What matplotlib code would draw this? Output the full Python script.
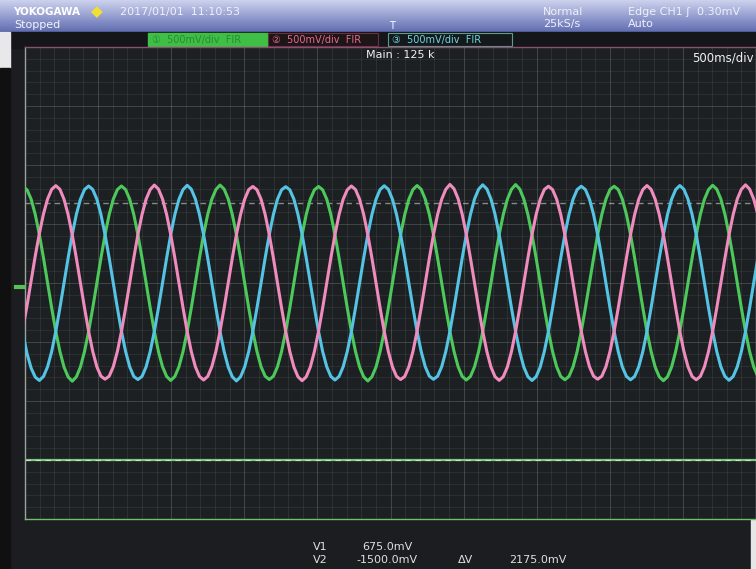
import numpy as np
import matplotlib.pyplot as plt
from matplotlib.patches import Rectangle

# sample clock
t_start = -0.014   # s
t_step = 0.02808   # s

# three phase traces, mV (500 mV/div)
pink_mv = [
    -380, -190, 20, 230, 420, 585, 712, 794,
    825, 794, 710, 580, 410, 212, 0, -212, -410, -580, -710, -790, -815, -790, -710, -580, -410, -212, 0, 212, 410, 580, 710, 792,
    830, 796, 712, 580, 410, 212, 0, -212, -410, -580, -710, -792, -822, -792, -710, -580, -410, -212, 0, 212, 410, 580, 710, 792,
    818, 790, 710, 580, 410, 212, 0, -212, -410, -580, -712, -795, -828, -795, -712, -580, -410, -212, 0, 212, 410, 580, 710, 790,
    822, 792, 710, 580, 410, 212, 0, -212, -410, -580, -710, -792, -818, -792, -710, -580, -410, -212, 0, 212, 410, 580, 710, 794,
    835, 798, 714, 582, 410, 212, 0, -212, -410, -580, -712, -794, -825, -794, -712, -580, -410, -212, 0, 212, 410, 580, 710, 792,
    820, 792, 710, 580, 410, 212, 0, -212, -410, -580, -710, -790, -815, -790, -710, -580, -410, -212, 0, 212, 410, 580, 710, 792,
    826, 794, 710, 580, 410, 212, 0, -212, -410, -580, -710, -792, -820, -792, -710, -580, -410, -212, 0, 212, 410, 580, 712, 794,
    832, 796, 712, 582,
]
blue_mv = [
    -430, -600, -722, -798, -826, -792, -710, -580, -410, -212, 0, 212, 410, 580, 710, 792,
    822, 792, 710, 580, 410, 212, 0, -212, -410, -580, -710, -792, -818, -792, -710, -580, -410, -212, 0, 212, 410, 580, 710, 792,
    828, 795, 712, 580, 410, 212, 0, -212, -410, -580, -712, -795, -830, -795, -712, -580, -410, -212, 0, 212, 410, 580, 710, 790,
    816, 790, 710, 580, 410, 212, 0, -212, -410, -580, -710, -792, -822, -792, -710, -580, -410, -212, 0, 212, 410, 580, 710, 792,
    824, 794, 710, 580, 410, 212, 0, -212, -410, -580, -710, -790, -816, -790, -710, -580, -410, -212, 0, 212, 410, 580, 712, 795,
    832, 797, 712, 580, 410, 212, 0, -212, -410, -580, -712, -794, -826, -794, -712, -580, -410, -212, 0, 212, 410, 580, 710, 792,
    820, 792, 710, 580, 410, 212, 0, -212, -410, -580, -710, -792, -820, -792, -710, -580, -410, -212, 0, 212, 410, 580, 710, 792,
    826, 794, 710, 580, 410, 212, 0, -212, -410, -580, -710, -792, -824, -792, -710, -580, -410, -212, 0, 212,
]
green_mv = [
    815, 790, 710, 580, 410, 212, 0, -212, -410, -580, -712, -796, -832, -796, -712, -580, -410, -212, 0, 212, 410, 580, 710, 792,
    822, 792, 710, 580, 410, 212, 0, -212, -410, -580, -710, -792, -826, -792, -710, -580, -410, -212, 0, 212, 410, 580, 710, 792,
    830, 796, 712, 580, 410, 212, 0, -212, -410, -580, -710, -790, -818, -790, -710, -580, -410, -212, 0, 212, 410, 580, 710, 790,
    818, 790, 710, 580, 410, 212, 0, -212, -410, -580, -712, -795, -830, -795, -712, -580, -410, -212, 0, 212, 410, 580, 710, 792,
    826, 794, 710, 580, 410, 212, 0, -212, -410, -580, -710, -792, -822, -792, -710, -580, -410, -212, 0, 212, 410, 580, 710, 794,
    834, 797, 712, 580, 410, 212, 0, -212, -410, -580, -710, -792, -820, -792, -710, -580, -410, -212, 0, 212, 410, 580, 710, 792,
    820, 792, 710, 580, 410, 212, 0, -212, -410, -580, -712, -795, -828, -795, -712, -580, -410, -212, 0, 212, 410, 580, 710, 792,
    828, 795, 712, 580, 410, 212, 0, -212, -410, -580, -710, -792,
]

# cursors
v1_mv = 675.0
v2_mv = -1500.0

W, H = 756, 569
fig = plt.figure(figsize=(W / 100, H / 100), dpi=100, facecolor='#1b1d20')

# background / frame in pixel coords
bg = fig.add_axes([0, 0, 1, 1], zorder=0)
bg.set_xlim(0, W)
bg.set_ylim(H, 0)
bg.axis('off')
grad = np.linspace(0, 1, 32)[:, None, None]
top = np.array([0.80, 0.82, 0.93])
bot = np.array([0.38, 0.43, 0.70])
bar = np.repeat(top * (1 - grad) + bot * grad, 2, axis=1)
bg.imshow(bar, extent=(0, W, 32, 0), aspect='auto')
bg.add_patch(Rectangle((0, 32), W, 16, color='#141619'))
bg.add_patch(Rectangle((0, 32), 10, 36, color='#e8e8ea'))
bg.add_patch(Rectangle((0, 68), 10, H - 68, color='#101010'))
bg.add_patch(Rectangle((751, 395), 5, H - 395, color='#e6e6e6'))

# channel tags
bg.add_patch(Rectangle((148, 33), 120, 13, color='#3fbf45'))
bg.add_patch(Rectangle((268, 33), 110, 13, facecolor='#1d1518', edgecolor='#6a3040', lw=0.8))
bg.add_patch(Rectangle((388, 33), 124, 13, facecolor='#141a1c', edgecolor='#5f9a8c', lw=0.8))

# scope grid
ax = fig.add_axes([25 / W, 50 / H, 731 / W, 472 / H], zorder=1)
ax.set_facecolor('#1d2023')
ax.set_xlim(0, 5.0)
ax.set_ylim(-2000, 2000)
for xv in np.arange(0.1, 5.0, 0.1):
    ax.axvline(xv, color='#7a8a80', lw=0.5, alpha=0.22)
for yv in np.arange(-1900, 2000, 100):
    ax.axhline(yv, color='#7a8a80', lw=0.5, alpha=0.2)
for xv in np.arange(0.5, 5.0, 0.5):
    ax.axvline(xv, color='#a0aaa4', lw=0.6, alpha=0.22)
for yv in np.arange(-1500, 2000, 500):
    ax.axhline(yv, color='#a0aaa4', lw=0.6, alpha=0.22)
ax.set_xticks([])
ax.set_yticks([])
for s in ax.spines.values():
    s.set_color('#9aa29c')
    s.set_linewidth(1.0)
ax.spines['top'].set_color('#8a5070')
ax.spines['bottom'].set_color('#6fbf6f')

t = t_start + t_step * np.arange(len(pink_mv))
ax.plot(t, green_mv, color='#4cc95a', lw=2.2, zorder=3)
ax.plot(t, blue_mv, color='#55c3e3', lw=2.2, zorder=4)
ax.plot(t, pink_mv, color='#f08cbd', lw=2.2, zorder=5)

ax.axhline(v1_mv, color='#c9d6c4', lw=1.0, ls=(0, (4, 3)), alpha=0.6, zorder=2)
ax.axhline(v2_mv, color='#78c878', lw=1.6, zorder=2)
ax.axhline(v2_mv, color='#dfe8dc', lw=0.8, ls=(0, (5, 4)), alpha=0.8, zorder=2)
ax.plot([-0.06, -0.005], [-30, -30], color='#58c058', lw=3, clip_on=False, zorder=6)

# texts on top
ov = fig.add_axes([0, 0, 1, 1], zorder=3)
ov.set_xlim(0, W)
ov.set_ylim(H, 0)
ov.axis('off')
ov.patch.set_alpha(0)
fs = 8
ov.text(13, 12, 'YOKOGAWA', color='white', fontsize=7.5, fontweight='bold', va='center')
ov.text(97, 12, '\u25c6', color='#f2e030', fontsize=11, va='center', ha='center')
ov.text(14, 25, 'Stopped', color='#f4f4f8', fontsize=fs, va='center')
ov.text(120, 12, '2017/01/01  11:10:53', color='#f0f0f8', fontsize=fs, va='center')
ov.text(543, 12, 'Normal', color='#eef0f8', fontsize=fs, va='center')
ov.text(543, 24, '25kS/s', color='#eef0f8', fontsize=fs, va='center')
ov.text(628, 12, 'Edge CH1 \u0283  0.30mV', color='#eef0f8', fontsize=fs, va='center')
ov.text(628, 24, 'Auto', color='#eef0f8', fontsize=fs, va='center')
ov.text(392, 26, 'T', color='white', fontsize=7, va='center', ha='center')
ov.text(152, 40, '\u2460  500mV/div  FIR', color='#2a8a34', fontsize=7, va='center')
ov.text(272, 40, '\u2461  500mV/div  FIR', color='#e86a90', fontsize=7, va='center')
ov.text(392, 40, '\u2462  500mV/div  FIR', color='#6fd6e0', fontsize=7, va='center')
ov.text(366, 55, 'Main : 125 k', color='#f0f0f0', fontsize=fs, va='center')
ov.text(754, 58, '500ms/div', color='#f0f0f0', fontsize=8.5, va='center', ha='right')
ov.text(313, 547, 'V1', color='#e0e0e0', fontsize=fs, va='center')
ov.text(362, 547, '675.0mV', color='#e0e0e0', fontsize=fs, va='center')
ov.text(313, 560, 'V2', color='#e0e0e0', fontsize=fs, va='center')
ov.text(356, 560, '-1500.0mV', color='#e0e0e0', fontsize=fs, va='center')
ov.text(458, 560, '\u0394V', color='#e0e0e0', fontsize=fs, va='center')
ov.text(509, 560, '2175.0mV', color='#e0e0e0', fontsize=fs, va='center')

fig.savefig('out.png', dpi=100, facecolor=fig.get_facecolor())
